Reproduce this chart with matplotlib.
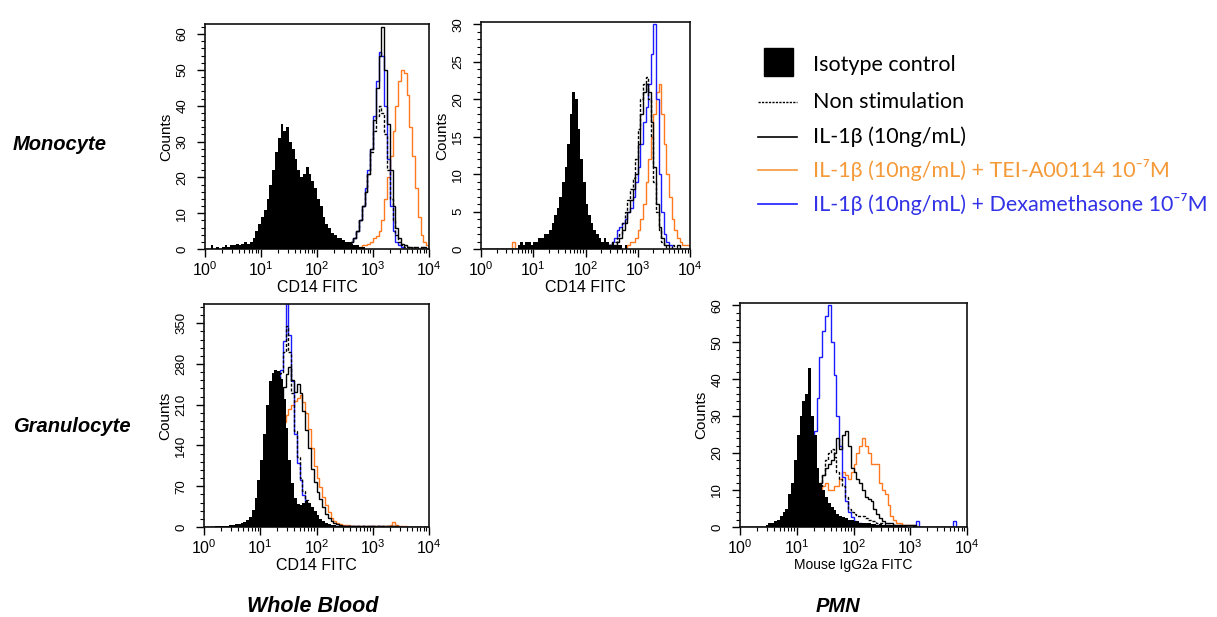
import numpy as np
import matplotlib
matplotlib.use("Agg")
import matplotlib.pyplot as plt
from matplotlib.ticker import MultipleLocator, LogLocator, NullFormatter
from matplotlib.lines import Line2D
from matplotlib.patches import Rectangle

plt.rcParams["font.family"] = ["Liberation Sans", "DejaVu Sans"]
plt.rcParams["mathtext.fontset"] = "custom"
plt.rcParams["mathtext.rm"] = "Liberation Sans"
plt.rcParams["mathtext.it"] = "Liberation Sans:italic"
plt.rcParams["mathtext.bf"] = "Liberation Sans:bold"

# ---------------- data: histogram channels (log10 FITC, 0.05-decade bins) ----------------
log_edges = np.round(np.arange(81) * 0.05, 2)

# Panel A: Whole blood, monocyte (CD14 FITC)
wbm_iso = [0, 0, 1, 0, 0.5, 0, 0.5, 1, 0.5, 1,
           1, 1.5, 1, 1.5, 2, 1.5, 2, 3, 5, 7,
           9, 11, 14, 18, 22, 27, 31, 35, 33, 34,
           30, 28, 25, 22, 20, 21, 23, 21, 19, 17,
           14, 12, 9, 7, 6, 4.5, 4, 3, 3, 2.5,
           2, 2, 1.5, 1, 1, 0.5, 0.5, 0, 0, 0,
           0, 0, 0, 0, 0, 0, 0, 0, 0, 0,
           0, 0, 0, 0, 0, 0, 0, 0, 0, 0]
wbm_non = [0, 0, 0, 0, 0, 0, 0, 0, 0, 0,
           0, 0, 0, 0, 0, 0, 0, 0, 0, 0,
           0, 0, 0, 0, 0, 0, 0, 0, 0, 0,
           0, 0, 0, 0, 0, 0, 0, 0, 0, 0,
           0.5, 0.5, 0.5, 0.5, 0.5, 0.5, 0.5, 0.5, 1, 1,
           1, 1.5, 2, 3, 5, 8, 12, 16, 21, 27,
           33, 37, 40, 38, 32, 22, 14, 8, 4, 2,
           1, 0.5, 0.5, 0, 0.5, 0, 0, 0.5, 0, 0]
wbm_il1 = [0, 0, 0, 0, 0, 0, 0, 0, 0, 0,
           0, 0, 0, 0, 0, 0, 0, 0, 0, 0,
           0, 0, 0, 0, 0, 0, 0, 0, 0, 0,
           0, 0, 0, 0, 0, 0, 0, 0, 0, 0,
           0.5, 0.5, 0.5, 0.5, 0.5, 0.5, 0.5, 0.5, 1, 1,
           1, 1.5, 2, 3, 5, 8, 12, 16, 21, 28,
           36, 45, 54, 62, 50, 35, 22, 12, 6, 3,
           1.5, 1, 0.5, 0.5, 0, 0.5, 0, 0.5, 0.5, 0]
wbm_tei = [0, 0, 0, 0, 0, 0, 0, 0, 0, 0,
           0, 0, 0, 0, 0, 0, 0, 0, 0, 0,
           0, 0, 0, 0, 0, 0, 0, 0, 0, 0,
           0, 0, 0, 0, 0, 0, 0, 0, 0, 0,
           0, 0, 0, 0, 0, 0, 0, 0, 0, 0.5,
           0.5, 0.5, 0.5, 0.5, 0.5, 0.5, 1, 1, 1.5, 2,
           3, 3.5, 5, 8, 14, 20, 26, 33, 40, 47,
           50, 49, 43, 34, 26, 17, 9, 4, 2, 1]
wbm_dex = [0, 0, 0, 0, 0, 0, 0, 0, 0, 0,
           0, 0, 0, 0, 0, 0, 0, 0, 0, 0,
           0, 0, 0, 0, 0, 0, 0, 0, 0, 0,
           0, 0, 0, 0, 0, 0, 0, 0, 0, 0,
           0.5, 0.5, 0.5, 0.5, 0.5, 0.5, 0.5, 1, 1, 1,
           1, 1.5, 2, 3, 5, 8, 12, 17, 22, 28,
           37, 47, 55, 54, 40, 25, 12, 5, 2, 1,
           0.5, 0, 0, 0, 0, 0, 0, 0, 0, 0]

# Panel B: monocyte (CD14 FITC), second sample
pm_iso = [0, 0, 0, 0, 0, 0, 0, 0, 0, 0,
          0, 0, 0, 0, 0.5, 1, 0.5, 1, 1, 0.5,
          1, 1, 1.5, 1.5, 2, 2, 2.5, 3.5, 4.5, 5.5,
          7, 9, 11, 14, 18, 21, 20, 16, 12, 9,
          6, 4.5, 3.5, 2.5, 2, 1.5, 1, 1.5, 1, 0.5,
          1, 0.5, 0.5, 0.5, 0, 0.5, 0, 0, 0, 0,
          0, 0, 0, 0, 0, 0, 0, 0, 0, 0,
          0, 0, 0, 0, 0, 0, 0, 0, 0, 0]
pm_non = [0, 0, 0, 0, 0, 0, 0, 0, 0, 0,
          0, 0, 0, 0, 0, 0, 0, 0, 0, 0,
          0, 0, 0, 0, 0, 0, 0, 0, 0, 0,
          0, 0, 0, 0, 0, 0, 0, 0, 0, 0,
          0, 0, 0, 0, 0, 0, 0, 0.5, 0.5, 0.5,
          1, 1, 1.5, 2, 3.5, 5, 6.5, 8, 9.5, 12,
          16, 20, 22, 23, 20, 15, 9, 5, 2.5, 1,
          0.5, 0, 0, 0.5, 0, 0, 0, 0, 0, 0]
pm_il1 = [0, 0, 0, 0, 0, 0, 0, 0, 0, 0,
          0, 0, 0, 0, 0, 0, 0, 0, 0, 0,
          0, 0, 0, 0, 0, 0, 0, 0, 0, 0,
          0, 0, 0, 0, 0, 0, 0, 0, 0, 0,
          0, 0, 0, 0, 0, 0, 0, 0, 0, 0.5,
          0.5, 0.5, 1, 1.5, 2.5, 3.5, 5, 6.5, 8, 10,
          14, 18, 21, 22, 21, 17, 11, 6, 3, 1.5,
          0.5, 0.5, 0, 0, 0, 0.5, 0, 0, 0, 0]
pm_tei = [0, 0, 0, 0, 0, 0, 0, 0, 0, 0,
          0, 0, 1, 0, 0, 0, 0, 0, 0, 0,
          0, 0, 0, 0, 0, 0, 0, 0, 0, 0,
          0, 0, 0, 0, 0, 0, 0, 0, 0, 0,
          0, 0, 0, 0, 0, 0, 0, 0, 0, 0,
          0, 0, 0, 0, 0, 0, 0.5, 1, 1, 1.5,
          2.5, 4, 6, 9, 12, 15, 18, 21, 22, 18,
          14, 10, 7, 4, 2.5, 1.5, 1, 0.5, 0.5, 0.5]
pm_dex = [0, 0, 0, 0, 0, 0, 0, 0, 0, 0,
          0, 0, 0, 0, 0, 0, 0, 0, 0, 0,
          0, 0, 0, 0, 0, 0, 0, 0, 0, 0,
          0, 0, 0, 0, 0, 0, 0, 0, 0, 0,
          0, 0, 0, 0, 0, 0, 0, 0.5, 0.5, 0.5,
          1, 1.5, 2.5, 3, 3.5, 4, 5, 5.5, 7, 9,
          11, 14, 17, 19, 22, 26, 30, 20, 10, 5,
          2, 1, 0.5, 0, 0, 0, 0, 0, 0, 0]

# Panel C: Whole blood, granulocyte (CD14 FITC)
wbg_iso = [0, 0, 0, 0.5, 1, 1, 1.5, 2, 2.5, 3,
           4, 5, 6, 7, 9, 12, 18, 30, 50, 80,
           115, 160, 210, 250, 265, 270, 268, 255, 220, 170,
           115, 75, 50, 40, 38, 42, 45, 42, 35, 27,
           20, 14, 10, 7, 5, 4, 3, 2.5, 2, 2,
           1.5, 1, 1, 1, 1, 1, 1, 1, 1, 1,
           1, 0.5, 0.5, 1, 0.5, 0.5, 0.5, 0.5, 0.5, 0.5,
           0.5, 0, 0.5, 0, 0, 0, 0, 0, 0, 0]
wbg_non = [0, 0, 0, 0, 0, 0, 0, 0, 0, 0,
           0, 0, 0, 0, 0, 1, 2, 4, 8, 15,
           30, 55, 85, 120, 160, 200, 235, 265, 300, 345,
           300, 230, 165, 120, 85, 62, 46, 34, 24, 16,
           11, 7, 5, 3.5, 2.5, 2, 2, 1.5, 1.5, 1.5,
           1, 1, 1, 1, 1, 1, 1, 1, 1, 1,
           1, 1, 1, 1, 1, 1, 1, 1, 1, 1,
           0.5, 0.5, 0, 0.5, 0, 0, 0, 0, 0, 0]
wbg_il1 = [0, 0, 0, 0, 0, 0, 0, 0, 0, 0,
           0, 0, 0, 0, 0, 1, 2, 3, 6, 12,
           25, 40, 65, 90, 120, 150, 185, 215, 240, 262,
           275, 252, 232, 245, 230, 200, 166, 135, 100, 78,
           60, 48, 34, 23, 16, 10, 7, 5, 3.5, 2.5,
           2, 2, 1.5, 1.5, 1.5, 1, 1, 1.5, 1, 1,
           1, 1, 1, 1.5, 1, 1, 1, 1, 1, 0.5,
           0.5, 0.5, 0.5, 0, 0, 0, 0, 0, 0, 0]
wbg_tei = [0, 0, 0, 0, 0, 0, 0, 0, 0, 0,
           0, 0, 0, 0, 0, 1, 2, 3, 6, 12,
           20, 35, 55, 80, 105, 130, 150, 165, 180, 193,
           203, 210, 216, 222, 226, 215, 195, 168, 135, 105,
           85, 68, 52, 38, 25, 16, 10, 7, 5, 4,
           3, 3, 2.5, 2.5, 2, 2, 2, 1.5, 1.5, 1.5,
           1.5, 1, 1.5, 1, 1, 2, 4, 8, 4, 2,
           1.5, 1, 0.5, 0.5, 0.5, 0, 0, 0, 0, 0]
wbg_dex = [0, 0, 0, 0, 0, 0, 0, 0, 0, 0,
           0, 0, 0, 0, 0, 1, 2, 4, 8, 15,
           30, 60, 100, 150, 190, 220, 245, 270, 320, 385,
           330, 250, 160, 110, 80, 55, 40, 29, 20, 14,
           10, 7, 5, 3.5, 2.5, 2, 1.5, 1.5, 1, 1,
           1, 1, 1, 0.5, 1, 0.5, 1, 0.5, 0.5, 1,
           0.5, 0.5, 1, 0.5, 0.5, 0.5, 0.5, 0.5, 0.5, 0.5,
           0.5, 0.5, 0, 0, 0, 0, 0, 0, 0, 0]

# Panel D: PMN, granulocyte (Mouse IgG2a FITC)
pg_iso = [0, 0, 0, 0, 0, 0, 0, 0, 0, 0.5,
          1, 1, 1.5, 2, 3, 4, 5, 9, 12, 18,
          25, 30, 34, 36, 43, 30, 25, 16, 12, 10,
          8, 6.5, 5.5, 4.5, 3.5, 3, 2.7, 2.5, 2, 2,
          1.5, 1.5, 1.2, 1, 1, 1, 0.8, 0.8, 0.5, 0.8,
          0.5, 0.5, 0.5, 0.5, 0.3, 0.5, 0.3, 0.3, 0.3, 0,
          0, 0.3, 0, 0, 0, 0, 0, 0, 0, 0,
          0, 0, 0, 0, 0, 0, 0, 0, 0, 0]
pg_non = [0, 0, 0, 0, 0, 0, 0, 0, 0, 0,
          0, 0, 0, 0, 0, 0.5, 0.5, 1, 1.5, 2,
          3, 4, 5, 6, 8, 9, 10, 10, 11, 14,
          18, 20, 21, 19, 15, 13, 11, 8, 5, 4,
          3.5, 3, 3, 3, 2.5, 2, 1.5, 1.5, 1, 1,
          1, 0.5, 0.5, 0.5, 0.5, 0, 0.5, 0, 0, 0,
          0, 0, 0, 0, 0, 0, 0, 0, 0, 0,
          0, 0, 0, 0, 0, 0, 0, 0, 0, 0]
pg_il1 = [0, 0, 0, 0, 0, 0, 0, 0, 0, 0,
          0, 0, 0, 0, 0, 0.5, 0.5, 1, 1.5, 2,
          3, 4, 5, 6, 7, 8, 9, 10, 12, 14,
          16, 17, 18, 20, 24, 21, 25, 26, 22, 16,
          15, 13, 12, 10, 8, 7.5, 7, 5, 3.5, 2.5,
          1.5, 1, 1, 1, 0.5, 0.5, 0.5, 0.5, 0.5, 0.5,
          0.5, 0.5, 0, 0, 0, 0, 0, 0, 0, 0,
          0, 0, 0, 0, 0, 0, 0, 0, 0, 0]
pg_tei = [0, 0, 0, 0, 0, 0, 0, 0, 0, 0,
          0, 0, 0, 0, 0, 0.5, 1, 1, 1.5, 2,
          3, 3, 4, 5, 6, 7, 8, 9, 10, 11,
          12, 10, 10, 11, 11, 13, 15, 14, 13, 15,
          17, 20, 22, 24, 22, 20, 17, 17, 17, 12,
          10, 9, 6, 3, 2, 1, 1, 0.5, 0.5, 0.5,
          0.5, 0.5, 0, 0, 0, 0, 0, 0, 0, 0,
          0, 0, 0, 0, 0, 0, 0, 0, 0, 0]
pg_dex = [0, 0, 0, 0, 0, 0, 0, 0, 0, 0,
          0, 0, 0, 0, 0, 0.5, 1, 1.5, 2, 3,
          4, 6, 9, 13, 18, 22, 26, 35, 46, 53,
          57, 60, 50, 41, 30, 22, 13.5, 7, 4, 2.7,
          1.5, 1, 1, 0.5, 0.5, 0.5, 0.5, 0, 0.5, 0,
          0, 0.5, 0, 0, 0, 0, 0, 0, 0, 0,
          0, 0, 1.5, 0, 0, 0, 0, 0, 0, 0,
          0, 0, 0, 0, 0, 1.5, 0, 0, 0, 0]

y_ticks_a = [0, 10, 20, 30, 40, 50, 60]
y_ticks_b = [0, 5, 10, 15, 20, 25, 30]
y_ticks_c = [0, 70, 140, 210, 280, 350]
y_ticks_d = [0, 10, 20, 30, 40, 50, 60]

legend_labels = ["Isotype control", "Non stimulation", "IL-1β (10ng/mL)",
                 "IL-1β (10ng/mL) + TEI-A00114 10⁻⁷M",
                 "IL-1β (10ng/mL) + Dexamethasone 10⁻⁷M"]
row_labels = ["Monocyte", "Granulocyte"]
col_labels = ["Whole Blood", "PMN"]

# ---------------- styling ----------------
C_ORANGE = "#FF7A1F"
C_BLUE = "#1A1AFF"
C_ORANGE_TXT = "#F59A38"
C_BLUE_TXT = "#3232E6"
DASH = (0, (2.2, 1.3))

W, H = 1217, 617
fig = plt.figure(figsize=(W / 100, H / 100), dpi=100)
fig.patch.set_facecolor("white")


def px_rect(l, t, r, b):
    return [l / W, 1 - b / H, (r - l) / W, (b - t) / H]


edges = 10.0 ** log_edges

panels = [
    dict(rect=px_rect(205, 24, 429, 249), iso=wbm_iso, non=wbm_non, il1=wbm_il1,
         tei=wbm_tei, dex=wbm_dex, ymax=62.8, yt=y_ticks_a, minor=2, xlabel="CD14 FITC", xls=11.5),
    dict(rect=px_rect(481, 22, 690, 249), iso=pm_iso, non=pm_non, il1=pm_il1,
         tei=pm_tei, dex=pm_dex, ymax=30.3, yt=y_ticks_b, minor=1, xlabel="CD14 FITC", xls=11.5),
    dict(rect=px_rect(204, 304, 429, 527), iso=wbg_iso, non=wbg_non, il1=wbg_il1,
         tei=wbg_tei, dex=wbg_dex, ymax=383, yt=y_ticks_c, minor=14, xlabel="CD14 FITC", xls=11.5),
    dict(rect=px_rect(740, 303, 967, 527), iso=pg_iso, non=pg_non, il1=pg_il1,
         tei=pg_tei, dex=pg_dex, ymax=60.6, yt=y_ticks_d, minor=2, xlabel="Mouse IgG2a FITC", xls=10),
]

for p in panels:
    for k in ("iso", "non", "il1", "tei", "dex"):
        assert len(p[k]) == 80, k
    ax = fig.add_axes(p["rect"])
    ax.stairs(p["tei"], edges, color=C_ORANGE, lw=1.0, zorder=2)
    ax.stairs(p["dex"], edges, color=C_BLUE, lw=1.0, zorder=2.1)
    ax.stairs(p["non"], edges, color="black", lw=1.0, linestyle=DASH, zorder=2.2)
    ax.stairs(p["il1"], edges, color="black", lw=1.0, zorder=2.3)
    ax.stairs(p["iso"], edges, fill=True, color="black", lw=0, zorder=3)
    ax.set_xscale("log")
    ax.set_xlim(1, 1e4)
    ax.set_ylim(0, p["ymax"])
    ax.xaxis.set_major_locator(LogLocator(base=10, numticks=10))
    ax.xaxis.set_minor_locator(LogLocator(base=10, subs=np.arange(2, 10), numticks=20))
    ax.xaxis.set_minor_formatter(NullFormatter())
    ax.set_yticks(p["yt"])
    ax.yaxis.set_minor_locator(MultipleLocator(p["minor"]))
    ax.tick_params(axis="x", which="major", direction="out", length=6, width=1,
                   labelsize=11.5, pad=2)
    ax.tick_params(axis="x", which="minor", direction="out", length=3, width=0.8)
    ax.tick_params(axis="y", which="major", direction="out", length=6, width=1,
                   labelsize=9.5, pad=6, labelrotation=90)
    ax.tick_params(axis="y", which="minor", direction="out", length=3, width=0.8)
    for lab in ax.get_yticklabels():
        lab.set_verticalalignment("center")
    for s in ax.spines.values():
        s.set_linewidth(1.2)
        s.set_color("#111111")
    ax.set_xlabel(p["xlabel"], fontsize=p["xls"], labelpad=1)
    ax.set_ylabel("Counts", fontsize=11, labelpad=2)

# ---------------- row / column labels ----------------
fig.text(60 / W, 1 - 145 / H, row_labels[0], ha="center", va="center",
         fontsize=14.5, fontweight="bold", fontstyle="italic")
fig.text(72 / W, 1 - 427 / H, row_labels[1], ha="center", va="center",
         fontsize=14.5, fontweight="bold", fontstyle="italic")
fig.text(313 / W, 1 - 607 / H, col_labels[0], ha="center", va="center",
         fontsize=15.5, fontweight="bold", fontstyle="italic")
fig.text(838 / W, 1 - 607 / H, col_labels[1], ha="center", va="center",
         fontsize=14.5, fontweight="bold", fontstyle="italic")

# ---------------- legend ----------------
leg_y = [65, 102, 137, 170, 204]
leg_font = ["Lato", "DejaVu Sans"]
fig.add_artist(Rectangle((764 / W, 1 - 76 / H), 29 / W, 28 / H,
                         transform=fig.transFigure, color="black"))
leg_styles = [None,
              dict(color="black", linestyle=(0, (1.6, 0.9)), lw=1.0),
              dict(color="black", linestyle="-", lw=1.2),
              dict(color=C_ORANGE_TXT, linestyle="-", lw=1.2),
              dict(color=C_BLUE, linestyle="-", lw=1.2)]
leg_colors = ["black", "black", "black", C_ORANGE_TXT, C_BLUE_TXT]
for i, lab in enumerate(legend_labels):
    yy = 1 - leg_y[i] / H
    if leg_styles[i] is not None:
        fig.add_artist(Line2D([758 / W, 797 / W], [yy, yy], transform=fig.transFigure,
                              **leg_styles[i]))
    fig.text(813 / W, yy, lab, ha="left", va="center", fontsize=15.5,
             family=leg_font, color=leg_colors[i])

fig.savefig("out.png", dpi=100, facecolor="white")
